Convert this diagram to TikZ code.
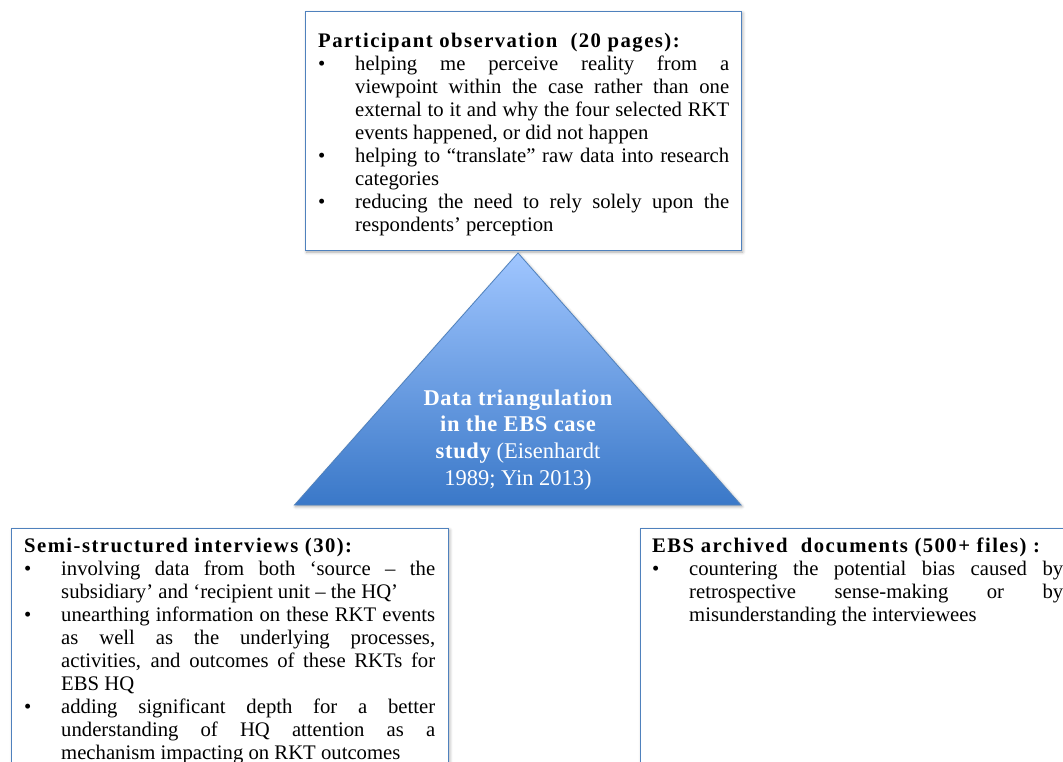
\documentclass[tikz,border=0pt]{standalone}
\usepackage{fontspec}
\setmainfont{Liberation Serif}
\usetikzlibrary{shadows.blur}

\definecolor{boxblue}{RGB}{79,129,189}
\definecolor{tritop}{RGB}{160,198,255}
\definecolor{tribot}{RGB}{58,120,200}

% justified lines may stretch a lot; keep the log quiet about it
\hbadness=10000
\tolerance=10000

% invisible strut that fixes the height of a first line
\newcommand\firststrut{\vrule width 0pt height 18pt depth 0pt\relax}
% bold, slightly spaced-out heading line
\newcommand\panelhead[1]{\noindent\firststrut{\bfseries\addfontfeatures{LetterSpace=7}#1}\par}
% bullet item with a hanging indent
\newcommand\bulletitem[1]{\noindent\hangindent=37pt\hangafter=1\makebox[37pt][l]{•}#1\par}

\tikzset{
  softshadow/.style={blur shadow={shadow xshift=1pt, shadow yshift=-1.5pt,
    shadow blur radius=3pt, shadow opacity=35}},
  panel/.style={rectangle, draw=boxblue, line width=1.3pt, fill=white, inner sep=0pt,
    anchor=north west, softshadow},
  paneltext/.style={anchor=north west, inner sep=0pt, text width=411pt, align=justify,
    font=\fontsize{20.7}{23}\selectfont},
  tritext/.style={anchor=north, inner sep=0pt, align=center, text=white,
    font=\fontsize{22.5}{26.7}\selectfont},
}

\begin{document}
\begin{tikzpicture}[x=1pt, y=-1pt]
  \useasboundingbox (0,0) rectangle (1063,762);
  \clip (0,0) rectangle (1063,762);

  % participant observation
  \node[panel, minimum width=436pt, minimum height=239pt] (obs) at (305,11) {};
  \node[paneltext] (obstext) at (318,29) {%
    \panelhead{Participant observation\ \ (20 pages):}
    \bulletitem{helping me perceive reality from a\linebreak viewpoint within the case rather than one\linebreak external to it and why the four selected RKT\linebreak events happened, or did not happen}
    \bulletitem{helping to “translate” raw data into research\linebreak categories}
    \bulletitem{reducing the need to rely solely upon the\linebreak respondents’ perception}};

  % triangle in the middle
  \coordinate (apex) at (518,253);
  \coordinate (baseL) at (294.5,505);
  \coordinate (baseR) at (741,505);
  \draw[draw=boxblue, line width=0.8pt, top color=tritop, bottom color=tribot, softshadow]
    (apex) -- (baseR) -- (baseL) -- cycle;
  \node[tritext] (tri) at (518,387) {%
    \firststrut{\bfseries\addfontfeatures{LetterSpace=3}Data triangulation}\\
    {\bfseries\addfontfeatures{LetterSpace=3}in the EBS case}\\
    {\bfseries\addfontfeatures{LetterSpace=3}study} (Eisenhardt\\
    1989; Yin 2013)};

  % semi-structured interviews
  \node[panel, minimum width=437pt, minimum height=300pt] (intv) at (11,528) {};
  \node[paneltext] (intvtext) at (24,534) {%
    \panelhead{Semi-structured interviews (30):}
    \bulletitem{involving data from both ‘source – the\linebreak subsidiary’ and ‘recipient unit – the HQ’}
    \bulletitem{unearthing information on these RKT events\linebreak as well as the underlying processes,\linebreak activities, and outcomes of these RKTs for\linebreak EBS HQ}
    \bulletitem{adding significant depth for a better\linebreak understanding of HQ attention as a\linebreak mechanism impacting on RKT outcomes}};

  % archived documents
  \node[panel, minimum width=460pt, minimum height=300pt] (docs) at (640,528) {};
  \node[paneltext] (docstext) at (652,534.5) {%
    \panelhead{EBS archived\ \ documents (500+ files) :}
    \bulletitem{countering the potential bias caused by\linebreak retrospective sense-making or by\linebreak misunderstanding the interviewees}};
\end{tikzpicture}
\end{document}
